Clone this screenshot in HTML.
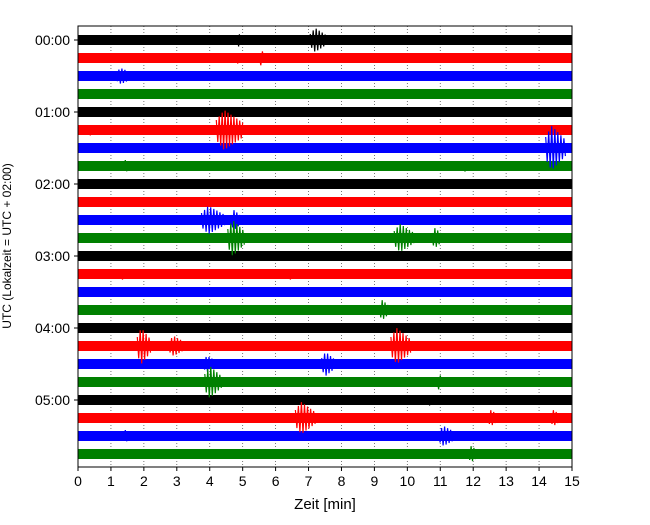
<!DOCTYPE html>
<html><head><meta charset="utf-8"><style>
body{margin:0;background:#fff;}
svg text{font-family:"Liberation Sans","DejaVu Sans",sans-serif;}
</style></head><body>
<svg id="chart" width="650" height="520" xmlns="http://www.w3.org/2000/svg"></svg>
<script>
const xTicks=[0,1,2,3,4,5,6,7,8,9,10,11,12,13,14,15];
const hourLabels=["00:00","01:00","02:00","03:00","04:00","05:00"];
const traceCount=24;
const traceColors=["#000000","#ff0000","#0000ff","#008000"];
// events: [trace index, minute, half-amplitude px, duration min]
const eventTrace=[0,0,1,1,2,5,5,6,7,7,9,10,10,11,11,11,13,13,15,17,17,17,18,18,19,19,20,21,21,21,22,22,23];
const eventMinute=[4.9,7.3,5.6,4.9,1.4,4.6,0.4,14.5,1.5,11.8,12.7,4.1,4.8,4.8,9.9,10.9,6.5,1.4,9.3,2.0,3.0,9.8,7.6,4.0,4.1,11.0,10.7,6.9,12.6,14.5,11.2,1.5,12.0];
const eventAmp=[7,12,8,6,8,20,6,22,6,6,5,14,10,18,14,10,6,6,10,18,10,18,12,8,16,8,6,16,8,8,10,6,8];
const eventDur=[0.1,0.5,0.2,0.2,0.5,0.8,0.1,0.6,0.3,0.2,0.2,0.7,0.3,0.5,0.6,0.3,0.2,0.2,0.3,0.4,0.5,0.6,0.4,0.4,0.5,0.2,0.1,0.6,0.3,0.3,0.5,0.3,0.3];

const svg=document.getElementById('chart');
const NS="http://www.w3.org/2000/svg";
const L=78,R=572,T=26,B=467,Y0=40,DY=18;
const xs=m=>L+(m-xTicks[0])/(xTicks[xTicks.length-1]-xTicks[0])*(R-L);
const ys=i=>Y0+i*DY;
function mk(tag,attrs,parent){const e=document.createElementNS(NS,tag);for(const k in attrs)e.setAttribute(k,attrs[k]);(parent||svg).appendChild(e);return e;}

xTicks.forEach((t,i)=>{
  if(i>0&&i<xTicks.length-1){
    const g=mk('line',{x1:xs(t),x2:xs(t),y1:T,y2:B,stroke:'#555',"stroke-width":0.8,"stroke-dasharray":"1,2"});
    
    
  }
});
for(let i=0;i<traceCount;i++){
  const c=traceColors[i%4];
  const r=mk('rect',{x:L,y:ys(i)-5,width:R-L,height:10,fill:c});
  
  
}
for(let k=0;k<eventTrace.length;k++){
  const c=traceColors[eventTrace[k]%4];
  const y=ys(eventTrace[k]);
  const x0=xs(eventMinute[k]-eventDur[k]/2),x1=xs(eventMinute[k]+eventDur[k]/2);
  const n=Math.max(4,Math.round((x1-x0)/1.5));
  let pts=[];
  for(let j=0;j<=n;j++){
    const f=j/n;
    const env=eventAmp[k]*(f<0.3?0.5+f/0.6:1-(f-0.3)*0.9);
    pts.push((x0+(x1-x0)*f).toFixed(1)+','+(y+(j%2?env:-env)).toFixed(1));
  }
  const p=mk('polyline',{points:pts.join(' '),fill:'none',stroke:c,"stroke-width":1.2});
  
  
}
const f=mk('rect',{x:L,y:T,width:R-L,height:B-T,fill:'none',stroke:'#000',"stroke-width":1});


xTicks.forEach(t=>{
  const l=mk('line',{x1:xs(t),x2:xs(t),y1:B,y2:B+4,stroke:'#000'});
  
  
  const tx=mk('text',{x:xs(t),y:B+19,"text-anchor":"middle","font-size":14});
  tx.textContent=t;
  
  
});
hourLabels.forEach((h,i)=>{
  const y=ys(i*4);
  const l=mk('line',{x1:L-4,x2:L,y1:y,y2:y,stroke:'#000'});
  
  
  const tx=mk('text',{x:L-8,y:y+5,"text-anchor":"end","font-size":14});
  tx.textContent=h;
  
  
});
const xt=mk('text',{x:(L+R)/2,y:509,"text-anchor":"middle","font-size":15});
xt.textContent="Zeit  [min]";


const yt=mk('text',{x:0,y:0,"text-anchor":"middle","font-size":12,transform:"translate(11,246) rotate(-90)"});
yt.textContent="UTC (Lokalzeit = UTC + 02:00)";


</script>
</body></html>
